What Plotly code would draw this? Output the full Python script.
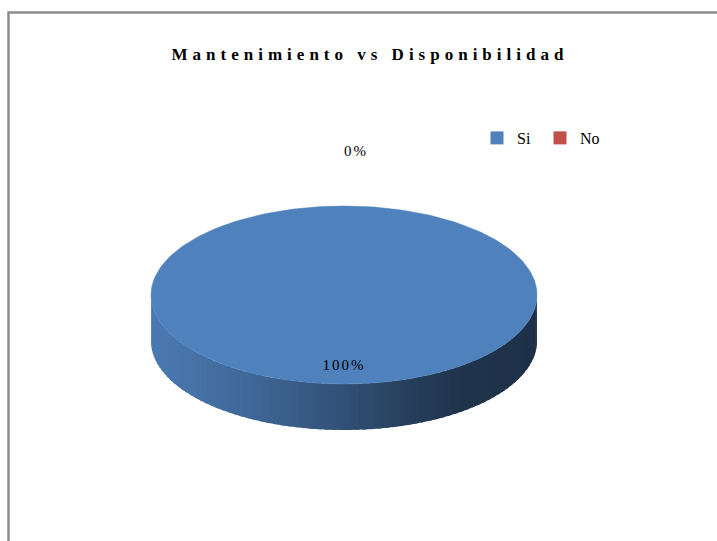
import numpy as np
import plotly.graph_objects as go

# ---- data ----
categories = ["Si", "No"]
values = [100, 0]
slice_colors = ["#4f81bd", "#c0504d"]
title_text = "Mantenimiento vs Disponibilidad"

# ---- layout geometry (pixels) ----
W, H = 717, 541
CX, CY, RX, RY, DEPTH = 344, 295, 193, 89, 46
FONT = "Liberation Serif"

# side shading multipliers along x (left -> right)
shade_stops = [(0.0, 0.94), (0.2, 0.84), (0.45, 0.66), (0.65, 0.5), (0.8, 0.4), (1.0, 0.38)]


def hex2rgb(h):
    h = h.lstrip("#")
    return [int(h[i:i + 2], 16) for i in (0, 2, 4)]


def shade(hexcol, t):
    ts = [s[0] for s in shade_stops]
    ms = [s[1] for s in shade_stops]
    m = float(np.interp(t, ts, ms))
    r, g, b = [min(255, int(round(c * m))) for c in hex2rgb(hexcol)]
    return f"rgb({r},{g},{b})"


def ell(phi, dy=0.0, k=1.0):
    return CX + k * RX * np.sin(phi), CY - k * RY * np.cos(phi) + dy


fig = go.Figure()

total = float(sum(values))
angles = []
start = 0.0
for v in values:
    span = 2 * np.pi * v / total
    angles.append((start, start + span))
    start += span

# --- side faces (front half visible) with gradient strips ---
N_STRIPS = 80
for (a0, a1), col, v in zip(angles, slice_colors, values):
    if v <= 0:
        continue
    lo, hi = max(a0, np.pi / 2), min(a1, 3 * np.pi / 2)
    if hi <= lo:
        continue
    edges = np.linspace(lo, hi, N_STRIPS + 1)
    step = edges[1] - edges[0]
    for p0, p1 in zip(edges[:-1], edges[1:]):
        p1x = min(hi, p1 + 0.6 * step)   # overlap neighbour to hide seams
        ph = np.linspace(p0, p1x, 5)
        xt, yt = ell(ph)
        xb, yb = ell(ph[::-1], DEPTH)
        xs = np.concatenate([xt, xb, xt[:1]])
        ys = np.concatenate([yt, yb, yt[:1]])
        xm, _ = ell((p0 + p1) / 2)
        t = (xm - (CX - RX)) / (2 * RX)
        c = shade(col, t)
        fig.add_trace(go.Scatter(x=xs, y=ys, mode="lines", fill="toself",
                                 fillcolor=c, line=dict(color=c, width=0),
                                 hoverinfo="skip", showlegend=False))

# --- top faces ---
for (a0, a1), col, v, cat in zip(angles, slice_colors, values, categories):
    if v <= 0:
        continue
    ph = np.linspace(a0, a1, 240)
    xs, ys = ell(ph)
    if a1 - a0 < 2 * np.pi - 1e-9:
        xs = np.concatenate([[CX], xs, [CX]])
        ys = np.concatenate([[CY], ys, [CY]])
    fig.add_trace(go.Scatter(x=xs, y=ys, mode="lines", fill="toself",
                             fillcolor=col, line=dict(color=col, width=0.5),
                             hoverinfo="skip", showlegend=False, name=cat))

# --- data labels ---
lx, ly, lt, lp = [], [], [], []
for (a0, a1), v in zip(angles, values):
    mid = (a0 + a1) / 2
    frac = v / total
    inside = frac > 0.05
    k = 0.8 if inside else 1.6
    x, y = ell(mid, 0, k)
    lx.append(x)
    ly.append(y)
    lt.append(f"{frac * 100:.0f}%")
    lp.append("middle center" if inside else "middle right")
fig.add_trace(go.Scatter(x=lx, y=ly, mode="text", text=lt, textposition=lp,
                         textfont=dict(family=FONT, size=15, color="#000000"),
                         hoverinfo="skip", showlegend=False))

# --- legend entries ---
for cat, col in zip(categories, slice_colors):
    fig.add_trace(go.Scatter(x=[None], y=[None], mode="markers", name=cat,
                             marker=dict(symbol="square", size=13, color=col)))

fig.update_layout(
    width=W, height=H, autosize=False,
    margin=dict(l=0, r=0, t=0, b=0),
    paper_bgcolor="white", plot_bgcolor="white",
    xaxis=dict(range=[0, W], visible=False, fixedrange=True),
    yaxis=dict(range=[H, 0], visible=False, fixedrange=True),
    title=dict(text=f"<b>{title_text}</b>", x=370 / W, xanchor="center",
               y=1 - 54 / H, yanchor="middle",
               font=dict(family=FONT, size=17, color="#000000")),
    legend=dict(orientation="h", x=477 / W, xanchor="left", y=1 - 138 / H,
                yanchor="middle", font=dict(family=FONT, size=16, color="#000000"),
                bgcolor="rgba(0,0,0,0)", entrywidth=18, entrywidthmode="pixels",
                itemclick=False, itemdoubleclick=False),
    shapes=[dict(type="rect", xref="paper", yref="paper",
                 x0=8.5 / W, x1=1.05, y0=-0.05, y1=1 - 12.5 / H,
                 line=dict(color="#8c8c8c", width=2.5), fillcolor="rgba(0,0,0,0)",
                 layer="above")],
    showlegend=True,
)

post = """
document.body.style.margin='0';
var gd=document.getElementById('{plot_id}');
gd.querySelectorAll('.gtitle').forEach(function(e){e.style.letterSpacing='5px';});
gd.querySelectorAll('.textpoint text').forEach(function(e){e.style.letterSpacing='2px';});
"""

fig.write_html("out.html", post_script=post, config={"displayModeBar": False})
